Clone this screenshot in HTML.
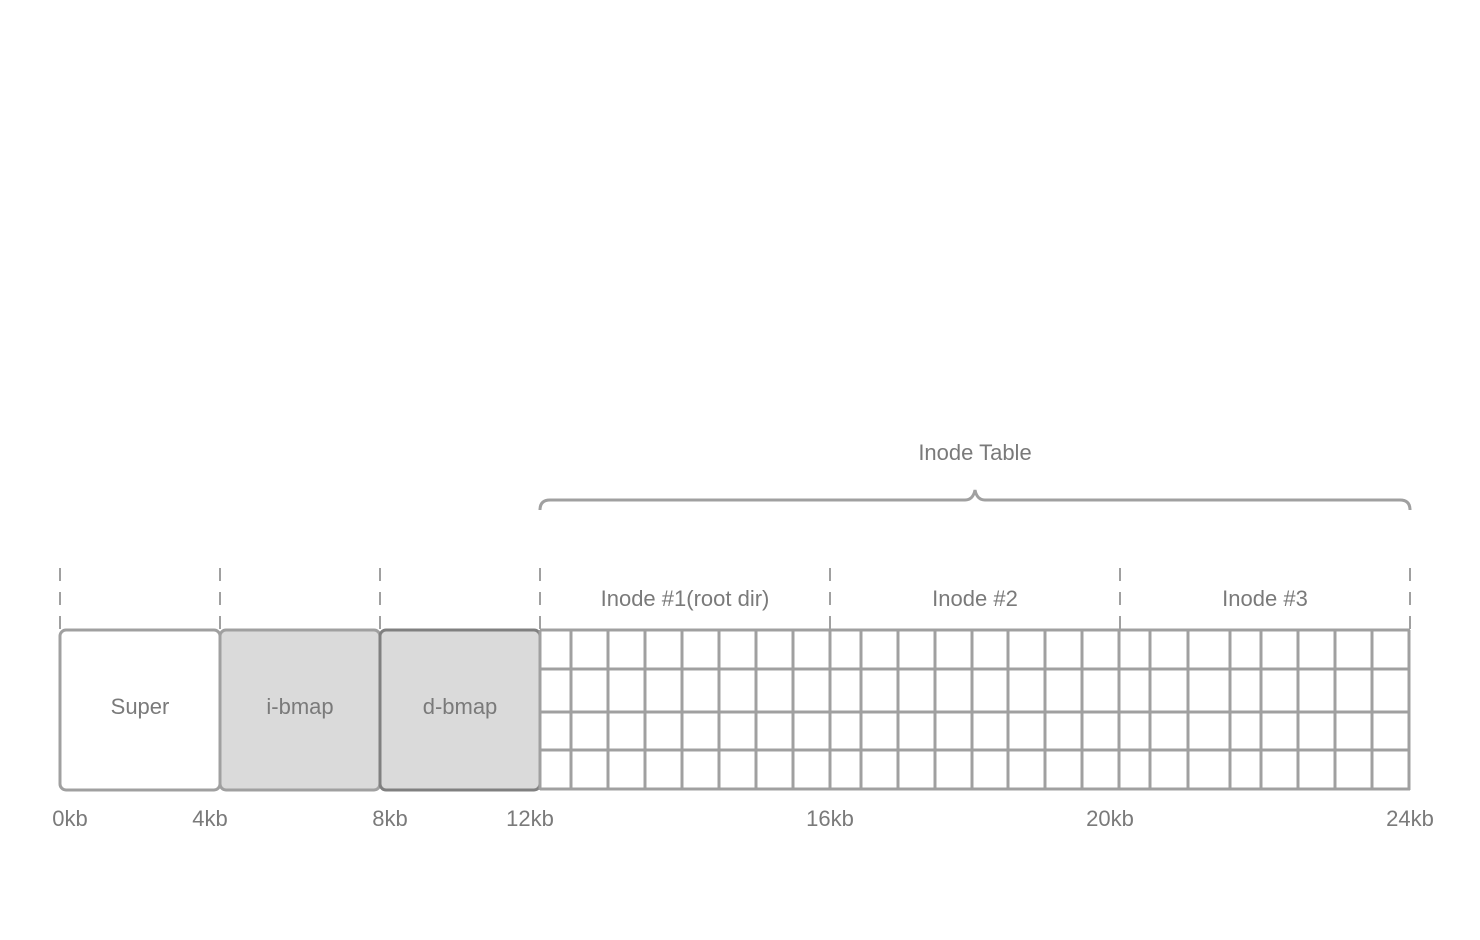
<!DOCTYPE html>
<html><head><meta charset="utf-8"><style>
html,body{margin:0;padding:0;background:#fff;}
svg{display:block;font-family:"Liberation Sans",sans-serif;}
text{fill:#7a7a7a;font-size:22px;}
</style></head><body>
<svg width="1480" height="940" viewBox="0 0 1480 940">
<g id="dashes" stroke="#a0a0a0" stroke-width="2" stroke-dasharray="13,11"></g>
<path d="M540,510 Q540,500 550,500 L965,500 Q973,500 975,490 Q977,500 985,500 L1400,500 Q1410,500 1410,510" fill="none" stroke="#a0a0a0" stroke-width="3"/>
<text x="975" y="460" text-anchor="middle">Inode Table</text>
<rect x="60" y="630" width="160" height="160" rx="6" fill="#fff" stroke="#a0a0a0" stroke-width="3"/>
<rect x="220" y="630" width="160" height="160" rx="6" fill="#dadada" stroke="#a0a0a0" stroke-width="3"/>
<rect x="380" y="630" width="160" height="160" rx="6" fill="#dadada" stroke="#808080" stroke-width="3"/>
<text x="140" y="714" text-anchor="middle">Super</text>
<text x="300" y="714" text-anchor="middle">i-bmap</text>
<text x="460" y="714" text-anchor="middle">d-bmap</text>
<g id="grid" stroke="#a0a0a0" stroke-width="3" fill="none"></g>
<text x="685" y="606" text-anchor="middle">Inode #1(root dir)</text>
<text x="975" y="606" text-anchor="middle">Inode #2</text>
<text x="1265" y="606" text-anchor="middle">Inode #3</text>
<g id="ticks"></g>
</svg>
<script>
const ns="http://www.w3.org/2000/svg";
const bounds=[60,220,380,540,830,1120,1410];
const colX=[540,571,608,645,682,719,756,793,830,861,898,935,972,1008,1045,1082,1119,1150,1188,1230,1261,1298,1335,1372,1409];
const rowY=[630,669,712,750,789];
const tickLabels=["0kb","4kb","8kb","12kb","16kb","20kb","24kb"];
const tickX=[70,210,390,530,830,1110,1410];
function line(g,x1,y1,x2,y2){const l=document.createElementNS(ns,"line");
l.setAttribute("x1",x1);l.setAttribute("y1",y1);l.setAttribute("x2",x2);l.setAttribute("y2",y2);g.appendChild(l);return l;}
const dg=document.getElementById("dashes");
bounds.forEach(x=>{const l=line(dg,x,568,x,630);

});
const gg=document.getElementById("grid");
colX.forEach(x=>{const l=line(gg,x,630,x,790);

});
rowY.forEach(y=>{const l=line(gg,540,y,1410,y);

});
const tg=document.getElementById("ticks");
tickLabels.forEach((t,i)=>{const e=document.createElementNS(ns,"text");
e.setAttribute("x",tickX[i]);e.setAttribute("y",826);e.setAttribute("text-anchor","middle");
e.textContent=t;


tg.appendChild(e);});
</script>
</body></html>
